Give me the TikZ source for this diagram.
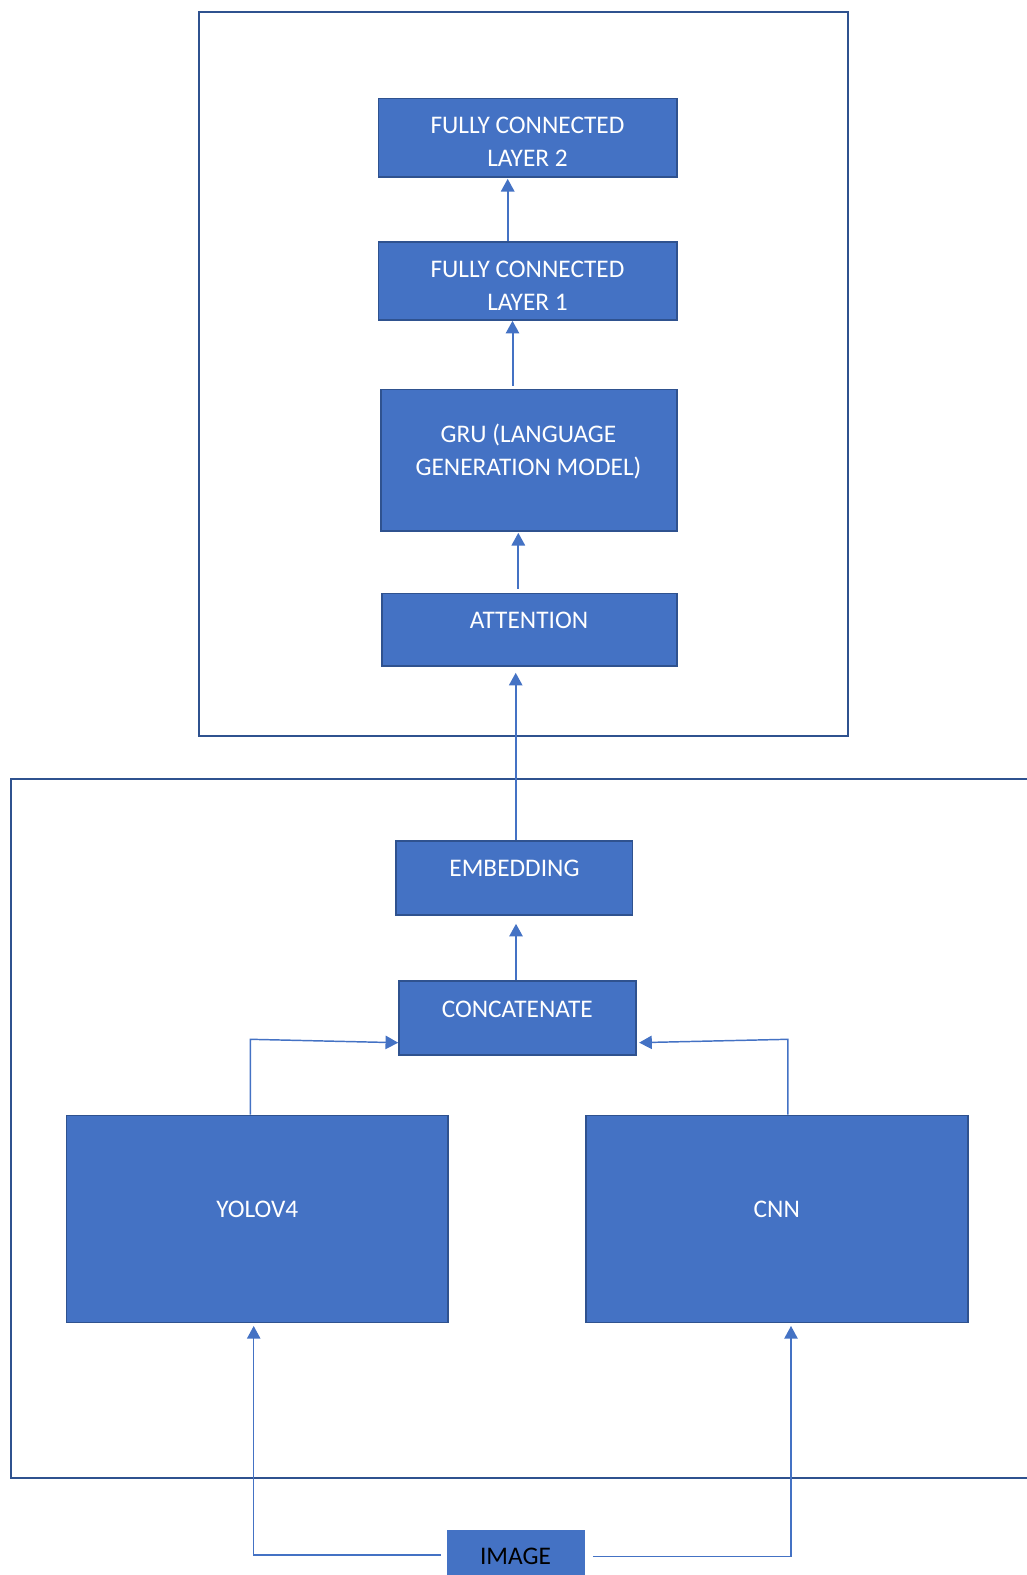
\documentclass[tikz,border=0pt]{standalone}
\usepackage{fontspec}
\setmainfont{Carlito}
\usetikzlibrary{fit,arrows.meta}
\definecolor{boxfill}{HTML}{4472C4}
\definecolor{boxline}{HTML}{2F528F}
\definecolor{arrcol}{HTML}{4472C4}
\tikzset{
  blk/.style={draw=boxline, line width=1.2pt, fill=boxfill, inner sep=0pt},
  txt/.style={font=\fontsize{19}{24.75}\selectfont, text=white, align=center, inner sep=0pt, anchor=base},
  frame/.style={draw=boxline, line width=1.5pt},
  arr/.style={draw=arrcol, line width=1.5pt, -{Triangle[width=10pt,length=9.5pt]}},
  elb/.style={draw=arrcol, line width=1.1pt, -{Triangle[width=10pt,length=9.5pt]}}
}
\begin{document}
\begin{tikzpicture}[x=0.75pt,y=-0.75pt]
\useasboundingbox (0,0) rectangle (1026,1575);
% group frames
\draw[frame] (199,12) rectangle (848,735.6);
\draw[frame] (1040,779) -- (11,779) -- (11,1477.7) -- (1040,1477.7);
% blocks
\node[blk, fit={(378.3,98.3) (676.7,176.7)}] (fc2) {};
\node[blk, fit={(378.3,241.7) (676.7,320)}] (fc1) {};
\node[blk, fit={(380.7,389.3) (676.7,530.7)}] (gru) {};
\node[blk, fit={(381.7,593.3) (676.7,666)}] (att) {};
\node[blk, fit={(396,841) (632.3,915)}] (emb) {};
\node[blk, fit={(399,981) (635.7,1055)}] (cat) {};
\node[blk, fit={(66.3,1115.4) (448.2,1322.5)}] (yolo) {};
\node[blk, fit={(585.9,1115.4) (967.7,1322.5)}] (cnn) {};
\node[blk, draw=none, fit={(447,1530) (584.8,1590)}] (img) {};
% texts (base anchor = baseline of last line)
\node[txt] (fc2t) at (527.5,166.9) {FULLY CONNECTED\\LAYER 2};
\node[txt] (fc1t) at (527.5,310.6) {FULLY CONNECTED\\LAYER 1};
\node[txt] (grut) at (528.5,475.4) {GRU (LANGUAGE\\GENERATION MODEL)};
\node[txt] (attt) at (529,628.1) {ATTENTION};
\node[txt] (embt) at (514.5,876.3) {EMBEDDING};
\node[txt] (catt) at (517.3,1017.1) {CONCATENATE};
\node[txt] (yolot) at (257.3,1217.1) {YOLOV4};
\node[txt] (cnnt) at (776.8,1217.1) {CNN};
\node[txt, text=black] (imgt) at (515.5,1564.7) {IMAGE};
% helper coordinates
\coordinate (x1) at (507.7,0);
\coordinate (x2) at (512.5,0);
\coordinate (x3) at (518.3,0);
\coordinate (x4) at (515.7,0);
\coordinate (x5) at (516,0);
\coordinate (xl) at (250.3,0);
\coordinate (xr) at (787.9,0);
\coordinate (yA) at (0,1039.3);
\coordinate (yB) at (0,1042.7);
\coordinate (xL) at (253.7,0);
\coordinate (xR) at (791,0);
\coordinate (yL) at (0,1555);
\coordinate (yR) at (0,1556.7);
% connectors
\draw[arr, shorten >=1pt] (fc1.north -| x1) -- (fc2.south -| x1);
\draw[arr] ([yshift=2pt]gru.north -| x2) -- (fc1.south -| x2);
\draw[arr, shorten >=1pt] ([yshift=3pt]att.north -| x3) -- (gru.south -| x3);
\draw[arr, shorten >=4.5pt] (emb.north -| x4) -- (att.south -| x4);
\draw[arr, shorten >=6pt] (cat.north -| x5) -- (emb.south -| x5);
\draw[elb] (yolo.north -| xl) -- (xl |- yA) -- (cat.west |- yB);
\draw[elb, shorten >=2pt] (cnn.north -| xr) -- (xr |- yA) -- (cat.east |- yB);
\draw[elb, shorten <=4pt, shorten >=2pt] (img.west |- yL) -- (xL |- yL) -- (yolo.south -| xL);
\draw[elb, shorten <=5.4pt, shorten >=2pt] (img.east |- yR) -- (xR |- yR) -- (cnn.south -| xR);
\end{tikzpicture}
\end{document}
